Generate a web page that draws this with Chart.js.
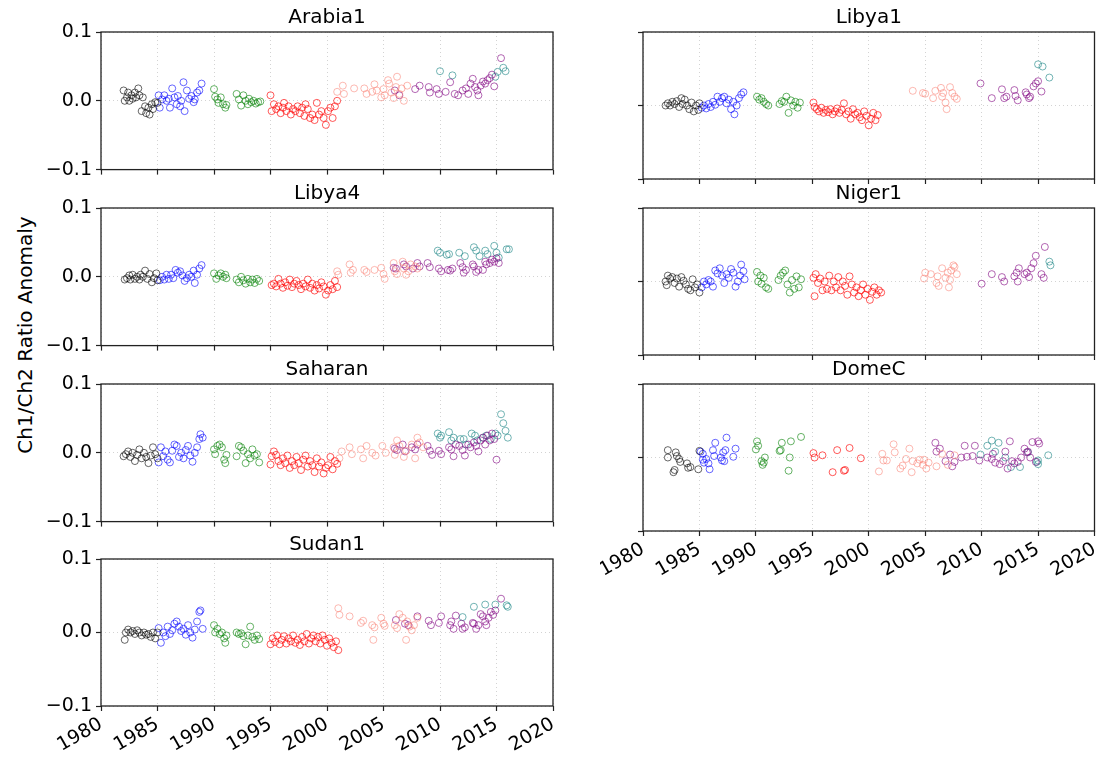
<!DOCTYPE html>
<html>
<head>
<meta charset="utf-8">
<script src="https://cdn.jsdelivr.net/npm/chart.js@4.4.1/dist/chart.umd.min.js"></script>
<style>
  body { margin: 0; background: #fff; width: 1099px; height: 759px; overflow: hidden; position: relative; font-family: "DejaVu Sans", sans-serif; }
  canvas { position: absolute; }
  #ylab { position: absolute; left: 25px; top: 335px; transform: translate(-50%, -50%) rotate(-90deg); font-size: 20px; white-space: nowrap; color: #000; }
</style>
</head>
<body>
<div id="ylab">Ch1/Ch2 Ratio Anomaly</div>
<script>
// x ticks (years) and y ticks
const X_TICKS = [1980, 1985, 1990, 1995, 2000, 2005, 2010, 2015, 2020];
const Y_TICKS = [-0.1, 0.0, 0.1];
const Y_LABELS = ['\u22120.1', '0.0', '0.1'];

// series colours, one per instrument period
const SERIES_COLORS = ['rgba(0,0,0,0.6)', 'rgba(0,0,255,0.6)', 'rgba(0,128,0,0.6)', 'rgba(255,0,0,0.65)',
  'rgba(250,128,114,0.55)', 'rgba(128,0,128,0.6)', 'rgba(40,140,140,0.65)'];

// data: flat [year, anomaly, year, anomaly, ...]
const ARABIA1_BLACK = [1982.0,.015, 1982.1,0, 1982.3,.005, 1982.4,.012, 1982.5,0, 1982.7,.008, 1982.8,.003, 1983.0,.012, 1983.1,.005, 1983.3,.018, 1983.4,.008, 1983.6,-.015, 1983.7,.005, 1983.9,-.008, 1984.0,-.018, 1984.2,-.01, 1984.3,-.02, 1984.5,-.005, 1984.6,-.012, 1984.8,-.002, 1985.0,-.003];
const ARABIA1_BLUE = [1985.1,.008, 1985.2,-.01, 1985.4,.002, 1985.6,.008, 1985.8,0, 1986.0,.003, 1986.1,-.01, 1986.3,.018, 1986.5,.005, 1986.7,-.005, 1986.8,.007, 1987.0,-.008, 1987.1,0, 1987.3,.027, 1987.4,-.015, 1987.6,.015, 1987.8,.003, 1988.0,.007, 1988.2,-.002, 1988.3,.002, 1988.5,.012, 1988.7,.015, 1988.9,.025];
const ARABIA1_GREEN = [1990.0,.017, 1990.1,.006, 1990.3,.002, 1990.4,-.003, 1990.6,.005, 1990.8,-.005, 1991.0,-.01, 1991.1,-.006, 1992.0,.01, 1992.2,.002, 1992.4,-.007, 1992.6,.008, 1992.8,0, 1993.0,-.005, 1993.1,.003, 1993.3,-.002, 1993.5,0, 1993.7,-.004, 1993.9,-.002, 1994.1,-.001];
const ARABIA1_RED = [1995.0,.008, 1995.1,-.015, 1995.3,-.005, 1995.5,-.012, 1995.7,-.008, 1995.9,-.018, 1996.1,-.01, 1996.2,-.003, 1996.4,-.015, 1996.6,-.008, 1996.8,-.02, 1997.0,-.012, 1997.2,-.015, 1997.4,-.008, 1997.6,-.018, 1997.8,-.01, 1998.0,-.022, 1998.1,-.005, 1998.3,-.012, 1998.5,-.025, 1998.7,-.02, 1998.9,-.028, 1999.1,-.003, 1999.3,-.02, 1999.5,-.015, 1999.7,-.025, 1999.9,-.035, 2000.1,-.015, 2000.3,-.01, 2000.5,-.025, 2000.7,-.008, 2000.9,0];
const ARABIA1_SALMON = [2000.9,.013, 2001.4,.022, 2001.5,.01, 2002.4,.018, 2003.3,.018, 2003.5,.01, 2004.0,.013, 2004.2,.024, 2004.4,.015, 2004.8,.005, 2005.0,.017, 2005.1,.008, 2005.4,.03, 2005.5,.025, 2005.7,.012, 2005.9,.004, 2006.1,.02, 2006.2,.035, 2006.4,.01, 2006.6,.018, 2006.8,0, 2007.1,.022];
const ARABIA1_PURPLE = [2006.0,.015, 2006.4,.008, 2007.8,.017, 2008.2,.022, 2009.0,.02, 2009.1,.012, 2009.7,.017, 2009.9,.01, 2010.5,.013, 2010.9,.027, 2011.3,.01, 2011.6,.008, 2012.0,.015, 2012.3,.018, 2012.5,.01, 2012.7,.025, 2012.9,.032, 2013.1,.02, 2013.3,.015, 2013.4,.008, 2013.6,.022, 2013.8,.028, 2014.0,.025, 2014.2,.03, 2014.4,.033, 2014.6,.038, 2014.8,.021, 2015.4,.062];
const ARABIA1_TEAL = [2010.0,.043, 2011.1,.037, 2014.9,.035, 2015.1,.042, 2015.6,.048, 2015.8,.043];

const LIBYA1_BLACK = [1982.0,0, 1982.2,.003, 1982.4,0, 1982.6,.005, 1982.8,.002, 1983.0,.006, 1983.2,-.002, 1983.4,.01, 1983.5,.002, 1983.7,.008, 1983.9,0, 1984.1,-.005, 1984.3,.004, 1984.5,-.008, 1984.7,0, 1984.9,-.006, 1985.0,.003];
const LIBYA1_BLUE = [1985.2,-.003, 1985.4,0, 1985.6,-.004, 1985.8,.002, 1986.0,-.002, 1986.2,.005, 1986.4,.001, 1986.6,.012, 1986.8,.005, 1987.0,.01, 1987.2,.012, 1987.4,.003, 1987.6,.008, 1987.8,-.005, 1988.0,.005, 1988.1,-.012, 1988.3,0, 1988.5,.01, 1988.7,.015, 1988.9,.018];
const LIBYA1_GREEN = [1990.1,.012, 1990.3,.008, 1990.5,.01, 1990.7,.005, 1990.9,.002, 1991.1,0, 1992.1,.002, 1992.3,.006, 1992.5,.005, 1992.7,.012, 1992.9,-.01, 1993.1,.007, 1993.3,0, 1993.5,.005, 1993.7,-.003, 1993.9,.004];
const LIBYA1_RED = [1995.1,.004, 1995.2,-.002, 1995.4,-.005, 1995.6,-.008, 1995.8,-.003, 1996.0,-.01, 1996.2,-.006, 1996.4,-.009, 1996.6,-.005, 1996.8,-.012, 1997.0,-.008, 1997.2,-.004, 1997.4,-.01, 1997.6,-.006, 1997.8,.003, 1998.0,-.012, 1998.2,-.008, 1998.4,-.018, 1998.6,-.005, 1998.8,-.012, 1999.0,-.01, 1999.2,-.016, 1999.4,-.02, 1999.6,-.008, 1999.8,-.014, 2000.0,-.027, 2000.2,-.018, 2000.4,-.01, 2000.6,-.02, 2000.8,-.013];
const LIBYA1_SALMON = [2003.9,.02, 2004.8,.017, 2005.0,.016, 2005.7,.01, 2005.9,.02, 2006.4,.024, 2006.5,.012, 2006.6,.017, 2006.8,.004, 2006.9,-.005, 2007.2,.025, 2007.4,.017, 2007.6,.012, 2007.8,.009];
const LIBYA1_PURPLE = [2009.9,.03, 2010.9,.01, 2011.8,.022, 2012.0,.01, 2012.2,.012, 2012.9,.021, 2013.0,.013, 2013.2,.007, 2013.9,.018, 2014.0,.015, 2014.2,.01, 2014.3,.012, 2014.6,.026, 2014.8,.03, 2015.0,.033, 2015.3,.019];
const LIBYA1_TEAL = [2015.0,.056, 2015.4,.053, 2016.0,.038];

const LIBYA4_BLACK = [1982.1,-.004, 1982.3,-.002, 1982.5,.002, 1982.6,-.004, 1982.8,.003, 1983.0,-.003, 1983.2,0, 1983.4,-.004, 1983.5,.003, 1983.7,0, 1983.9,.009, 1984.1,-.003, 1984.3,.004, 1984.5,-.008, 1984.7,-.002, 1984.9,.005, 1985.0,-.005];
const LIBYA4_BLUE = [1985.2,-.005, 1985.4,0, 1985.6,-.004, 1985.8,.003, 1986.0,-.003, 1986.2,.003, 1986.4,-.002, 1986.6,.01, 1986.8,.006, 1987.0,.008, 1987.2,.002, 1987.4,-.006, 1987.6,-.002, 1987.8,.003, 1988.0,0, 1988.2,.009, 1988.3,-.009, 1988.5,.003, 1988.7,.012, 1988.9,.017];
const LIBYA4_GREEN = [1990.0,.005, 1990.2,-.003, 1990.4,.002, 1990.6,.005, 1990.8,0, 1991.0,.003, 1991.1,-.002, 1992.0,-.004, 1992.2,-.008, 1992.4,0, 1992.6,-.005, 1992.8,-.01, 1993.0,-.003, 1993.2,-.008, 1993.4,-.004, 1993.6,-.009, 1993.8,-.003, 1994.0,-.006];
const LIBYA4_RED = [1995.1,-.012, 1995.3,-.01, 1995.5,-.014, 1995.7,-.003, 1995.9,-.01, 1996.1,-.016, 1996.3,-.008, 1996.5,-.013, 1996.7,-.004, 1996.9,-.015, 1997.1,-.01, 1997.3,-.006, 1997.5,-.012, 1997.7,-.018, 1997.9,-.01, 1998.1,-.014, 1998.3,-.004, 1998.5,-.016, 1998.7,-.01, 1998.9,-.02, 1999.1,-.012, 1999.3,-.017, 1999.5,-.008, 1999.7,-.014, 1999.9,-.026, 2000.1,-.02, 2000.3,-.012, 2000.5,-.018, 2000.7,-.006, 2000.9,-.015];
const LIBYA4_SALMON = [2000.9,.008, 2001.0,.003, 2002.0,.018, 2002.1,.006, 2002.3,.01, 2003.3,.01, 2003.5,.007, 2004.2,.01, 2004.8,.013, 2005.0,.004, 2005.1,-.003, 2005.9,.02, 2006.0,.008, 2006.2,.004, 2006.7,.022, 2006.8,.012, 2007.0,.003, 2007.2,.008, 2007.4,.018, 2007.8,.015, 2008.0,.012];
const LIBYA4_PURPLE = [2005.9,.013, 2006.1,.012, 2006.8,.018, 2007.0,.015, 2007.6,.012, 2008.0,.02, 2008.2,.015, 2008.9,.02, 2009.1,.014, 2009.9,.012, 2010.1,.008, 2010.7,.01, 2010.9,.009, 2011.1,.012, 2011.8,.02, 2012.0,.014, 2012.1,.006, 2012.3,.01, 2012.9,.018, 2013.0,.015, 2013.2,.007, 2013.4,.01, 2013.8,.01, 2014.0,.022, 2014.1,.018, 2014.4,.02, 2014.6,.025, 2014.8,.022, 2015.0,.027, 2015.2,.02];
const LIBYA4_TEAL = [2009.8,.038, 2010.0,.035, 2010.6,.032, 2010.8,.033, 2011.7,.035, 2012.2,.03, 2013.0,.043, 2013.2,.038, 2013.5,.03, 2014.0,.038, 2014.2,.033, 2014.8,.045, 2015.0,.035, 2015.2,.028, 2015.9,.04, 2016.1,.04];

const NIGER1_BLACK = [1982.0,0, 1982.1,-.005, 1982.2,.008, 1982.4,.004, 1982.6,.006, 1982.8,-.002, 1983.0,.004, 1983.2,-.007, 1983.4,.006, 1983.6,.001, 1983.8,-.004, 1984.0,-.01, 1984.2,-.012, 1984.4,.003, 1984.6,-.008, 1984.8,-.004, 1985.0,-.015];
const NIGER1_BLUE = [1985.2,-.008, 1985.4,0, 1985.6,-.004, 1985.8,.002, 1986.0,0, 1986.2,-.007, 1986.4,.015, 1986.6,.011, 1986.8,.018, 1987.0,.008, 1987.2,-.002, 1987.4,.01, 1987.6,.005, 1987.8,.017, 1988.0,.012, 1988.2,-.007, 1988.4,0, 1988.6,.008, 1988.7,.023, 1988.9,.014, 1989.0,.003];
const NIGER1_GREEN = [1990.1,.013, 1990.2,0, 1990.4,.008, 1990.5,-.003, 1990.7,.005, 1990.9,-.008, 1991.1,-.01, 1992.0,.002, 1992.2,.008, 1992.4,.012, 1992.6,.015, 1992.8,-.004, 1993.0,-.015, 1993.2,.002, 1993.4,-.01, 1993.6,.007, 1993.8,-.008, 1994.0,.003];
const NIGER1_RED = [1995.1,.005, 1995.2,-.02, 1995.3,.01, 1995.5,-.002, 1995.7,.004, 1995.9,-.012, 1996.1,0, 1996.3,-.01, 1996.5,.008, 1996.7,-.012, 1996.9,0, 1997.1,-.008, 1997.3,.006, 1997.5,-.012, 1997.7,0, 1997.9,-.006, 1998.1,-.018, 1998.3,.007, 1998.5,-.004, 1998.7,-.015, 1998.9,-.008, 1999.1,-.02, 1999.3,-.012, 1999.5,-.004, 1999.7,-.018, 1999.9,-.01, 2000.1,-.025, 2000.3,-.014, 2000.5,-.008, 2000.7,-.018, 2000.9,-.012, 2001.1,-.015];
const NIGER1_SALMON = [2004.9,.004, 2005.0,.012, 2005.5,.01, 2006.0,-.002, 2006.1,.007, 2006.2,-.006, 2006.5,.018, 2006.8,.005, 2007.0,.012, 2007.1,-.008, 2007.2,.002, 2007.3,.015, 2007.5,.022, 2007.6,.02, 2007.8,.01];
const NIGER1_PURPLE = [2010.0,-.003, 2010.9,.01, 2011.8,.006, 2012.0,0, 2012.9,.007, 2013.1,.012, 2013.2,0, 2013.3,.018, 2013.8,.01, 2014.0,.012, 2014.2,.006, 2014.4,.018, 2014.6,.025, 2014.8,.035, 2015.3,.01, 2015.5,.005, 2015.6,.047];
const NIGER1_TEAL = [2016.0,.027, 2016.1,.022];

const SAHARAN_BLACK = [1982.0,-.005, 1982.2,-.002, 1982.4,.002, 1982.6,-.006, 1982.8,0, 1983.0,-.012, 1983.2,-.003, 1983.4,.005, 1983.6,-.008, 1983.8,0, 1984.0,-.006, 1984.2,-.015, 1984.4,-.004, 1984.6,.008, 1984.8,-.002, 1985.0,-.008];
const SAHARAN_BLUE = [1985.1,-.014, 1985.3,.008, 1985.5,-.005, 1985.7,.002, 1985.9,-.01, 1986.1,-.014, 1986.3,.003, 1986.5,.012, 1986.7,.01, 1986.9,-.006, 1987.1,0, 1987.3,-.008, 1987.5,.004, 1987.7,.01, 1987.9,-.004, 1988.1,-.013, 1988.3,0, 1988.5,.008, 1988.7,.02, 1988.8,.027, 1989.0,.022];
const SAHARAN_GREEN = [1990.0,.005, 1990.1,-.002, 1990.3,.01, 1990.5,.012, 1990.7,.008, 1990.9,-.01, 1991.0,-.015, 1991.1,-.003, 1992.0,-.005, 1992.2,.01, 1992.4,.008, 1992.6,.003, 1992.8,-.015, 1993.0,-.002, 1993.2,-.008, 1993.4,.005, 1993.6,-.004, 1993.8,-.002, 1994.0,-.014];
const SAHARAN_RED = [1995.0,-.017, 1995.1,-.005, 1995.3,.002, 1995.5,-.003, 1995.7,-.012, 1995.9,-.018, 1996.1,-.008, 1996.3,-.015, 1996.5,-.004, 1996.7,-.022, 1996.9,-.012, 1997.1,-.018, 1997.3,-.006, 1997.5,-.015, 1997.7,-.025, 1997.9,-.01, 1998.1,-.004, 1998.3,-.02, 1998.5,-.012, 1998.7,-.018, 1998.9,-.028, 1999.1,-.008, 1999.3,-.02, 1999.5,-.014, 1999.7,-.03, 1999.9,-.022, 2000.1,-.018, 2000.3,-.006, 2000.5,-.024, 2000.7,-.012, 2000.9,-.016];
const SAHARAN_SALMON = [2001.1,-.008, 2001.3,.002, 2002.0,.008, 2002.2,-.002, 2003.0,.005, 2003.2,-.008, 2003.5,.01, 2004.0,0, 2004.3,-.004, 2004.9,.01, 2005.2,0, 2005.9,.008, 2006.0,-.003, 2006.2,.018, 2006.4,.01, 2006.8,-.006, 2007.0,.003, 2007.5,.012, 2007.8,-.008, 2008.0,.022, 2008.2,.015, 2008.5,.008];
const SAHARAN_PURPLE = [2006.0,.006, 2006.2,.004, 2006.7,.012, 2006.9,.002, 2007.5,.008, 2007.8,.005, 2008.0,.012, 2008.9,.01, 2009.1,.003, 2009.3,-.003, 2009.9,.003, 2010.1,-.002, 2010.8,.008, 2011.0,.005, 2011.2,-.005, 2011.4,.012, 2011.7,.01, 2012.0,.004, 2012.2,-.004, 2012.5,.012, 2012.7,.008, 2013.0,.015, 2013.2,.01, 2013.4,.002, 2013.6,.018, 2013.8,.022, 2014.0,.012, 2014.2,.025, 2014.4,.018, 2014.6,.028, 2014.8,.02, 2015.0,-.01];
const SAHARAN_TEAL = [2009.8,.028, 2010.0,.022, 2010.1,.025, 2010.8,.03, 2011.0,.018, 2011.2,.022, 2011.8,.02, 2012.1,.02, 2012.3,.012, 2012.8,.028, 2013.1,.025, 2013.3,.018, 2013.8,.022, 2014.1,.025, 2014.5,.02, 2014.9,.028, 2015.1,.025, 2015.4,.056, 2015.6,.043, 2015.8,.032, 2016.0,.022];

const DOMEC_BLACK = [1982.2,.01, 1982.2,0, 1982.7,-.02, 1982.8,-.017, 1982.9,.007, 1983.0,.002, 1983.2,-.002, 1983.3,-.006, 1983.9,-.008, 1984.0,-.014, 1984.2,-.013, 1984.9,-.016, 1985.0,.009];
const DOMEC_BLUE = [1985.1,.008, 1985.3,.005, 1985.3,-.003, 1985.4,-.007, 1985.6,-.002, 1985.8,-.008, 1985.9,-.016, 1986.2,.01, 1986.3,.002, 1986.4,.02, 1986.9,0, 1987.0,-.004, 1987.1,.007, 1987.2,-.005, 1987.3,.01, 1987.4,.027, 1988.0,.001, 1988.2,.012];
const DOMEC_GREEN = [1990.0,.011, 1990.1,.022, 1990.2,.016, 1990.5,-.005, 1990.6,-.01, 1990.7,-.007, 1990.8,0, 1992.1,.009, 1992.2,.01, 1992.3,.02, 1993.1,.022, 1993.0,0, 1992.9,-.018, 1994.0,.028];
const DOMEC_RED = [1995.1,.006, 1995.2,0, 1995.9,.003, 1996.8,-.02, 1997.2,.01, 1997.8,-.018, 1997.9,-.017, 1998.3,.013, 1999.3,-.001];
const DOMEC_SALMON = [2000.9,-.019, 2001.2,.005, 2001.3,-.004, 2001.6,-.004, 2002.2,.018, 2002.3,.007, 2002.8,-.015, 2003.0,-.011, 2003.3,-.002, 2003.6,.012, 2003.8,-.02, 2003.9,-.005, 2004.3,-.008, 2004.5,-.003, 2004.8,-.01, 2004.9,-.003, 2005.1,-.015, 2005.3,-.007, 2006.0,-.012, 2006.5,.005, 2007.0,-.01, 2007.6,.003];
const DOMEC_PURPLE = [2005.9,.02, 2006.0,.008, 2006.3,.012, 2006.8,-.005, 2007.2,.004, 2007.4,-.012, 2007.6,-.006, 2008.2,0, 2008.5,.016, 2008.7,.001, 2009.2,.002, 2009.4,.016, 2009.8,-.004, 2010.5,0, 2010.9,-.002, 2011.0,.005, 2011.2,-.007, 2011.6,-.009, 2011.9,-.005, 2012.1,.008, 2012.3,-.015, 2012.5,.022, 2012.7,-.005, 2012.9,-.008, 2013.2,-.006, 2013.5,0, 2013.8,.012, 2014.0,.007, 2014.1,.008, 2014.3,0, 2014.5,.021, 2014.8,-.006, 2015.0,.022, 2015.1,.019];
const DOMEC_TEAL = [2009.9,.004, 2010.5,.016, 2010.9,.023, 2011.2,.008, 2011.5,.02, 2012.1,0, 2012.6,-.013, 2013.4,-.013, 2014.1,.007, 2014.9,-.006, 2015.0,-.009, 2015.0,-.004, 2015.9,.003];

const SUDAN1_BLACK = [1982.1,-.01, 1982.2,0, 1982.4,.004, 1982.6,0, 1982.8,.002, 1983.0,-.002, 1983.2,.003, 1983.4,0, 1983.6,-.004, 1983.8,0, 1984.0,-.003, 1984.2,-.002, 1984.4,-.006, 1984.6,0, 1984.8,-.008, 1985.0,0];
const SUDAN1_BLUE = [1985.1,.006, 1985.3,-.014, 1985.5,0, 1985.7,-.005, 1985.9,.008, 1986.1,-.002, 1986.3,.003, 1986.5,.012, 1986.7,.015, 1986.9,.008, 1987.1,.002, 1987.3,.005, 1987.5,-.003, 1987.7,.01, 1987.9,0, 1988.1,-.007, 1988.3,.004, 1988.5,.015, 1988.7,.028, 1988.8,.03, 1989.0,.005];
const SUDAN1_GREEN = [1990.0,.01, 1990.1,0, 1990.3,.005, 1990.5,-.002, 1990.7,0, 1990.9,-.008, 1991.0,-.014, 1991.1,-.004, 1992.0,0, 1992.2,-.002, 1992.4,-.001, 1992.6,-.005, 1992.8,-.016, 1993.0,-.004, 1993.2,.008, 1993.4,-.006, 1993.6,-.01, 1993.8,-.004, 1994.0,-.009];
const SUDAN1_RED = [1995.0,-.016, 1995.2,-.008, 1995.4,-.013, 1995.6,-.004, 1995.8,-.016, 1996.0,-.01, 1996.2,-.005, 1996.4,-.015, 1996.6,-.008, 1996.8,-.012, 1997.0,-.004, 1997.2,-.014, 1997.4,-.01, 1997.6,-.017, 1997.8,-.006, 1998.0,-.012, 1998.2,-.002, 1998.4,-.015, 1998.6,-.008, 1998.8,-.004, 1999.0,-.012, 1999.2,-.006, 1999.4,-.015, 1999.6,-.004, 1999.8,-.01, 2000.0,-.018, 2000.2,-.008, 2000.4,-.014, 2000.6,-.02, 2000.8,-.012, 2001.0,-.024];
const SUDAN1_SALMON = [2001.0,.033, 2001.1,.024, 2002.0,.022, 2003.0,.013, 2003.2,.016, 2004.0,.01, 2004.1,-.01, 2004.2,.007, 2004.8,.02, 2005.0,.012, 2005.1,.009, 2006.0,.01, 2006.2,.006, 2006.4,.025, 2006.7,.02, 2007.0,-.01, 2007.1,.015, 2007.3,.008, 2007.5,.003, 2007.7,.01, 2008.0,.02];
const SUDAN1_PURPLE = [2006.1,.017, 2006.9,.012, 2007.2,.01, 2008.0,.022, 2009.0,.016, 2009.2,.01, 2009.9,.013, 2010.1,.022, 2010.9,.01, 2011.0,.015, 2011.2,.005, 2011.4,.023, 2011.9,.012, 2012.0,.005, 2012.2,.007, 2012.9,.013, 2013.0,.012, 2013.2,.005, 2013.4,.01, 2013.6,.025, 2013.8,.022, 2014.0,.015, 2014.1,.01, 2014.3,.02, 2014.5,.028, 2014.7,.024, 2014.9,.03, 2015.4,.046];
const SUDAN1_TEAL = [2012.0,.021, 2013.0,.035, 2014.0,.038, 2014.9,.038, 2015.9,.037, 2016.0,.035];

// panels: title, column, row, series in colour order
const PANELS = [
  ['Arabia1', 0, 0, [ARABIA1_BLACK, ARABIA1_BLUE, ARABIA1_GREEN, ARABIA1_RED, ARABIA1_SALMON, ARABIA1_PURPLE, ARABIA1_TEAL]],
  ['Libya1', 1, 0, [LIBYA1_BLACK, LIBYA1_BLUE, LIBYA1_GREEN, LIBYA1_RED, LIBYA1_SALMON, LIBYA1_PURPLE, LIBYA1_TEAL]],
  ['Libya4', 0, 1, [LIBYA4_BLACK, LIBYA4_BLUE, LIBYA4_GREEN, LIBYA4_RED, LIBYA4_SALMON, LIBYA4_PURPLE, LIBYA4_TEAL]],
  ['Niger1', 1, 1, [NIGER1_BLACK, NIGER1_BLUE, NIGER1_GREEN, NIGER1_RED, NIGER1_SALMON, NIGER1_PURPLE, NIGER1_TEAL]],
  ['Saharan', 0, 2, [SAHARAN_BLACK, SAHARAN_BLUE, SAHARAN_GREEN, SAHARAN_RED, SAHARAN_SALMON, SAHARAN_PURPLE, SAHARAN_TEAL]],
  ['DomeC', 1, 2, [DOMEC_BLACK, DOMEC_BLUE, DOMEC_GREEN, DOMEC_RED, DOMEC_SALMON, DOMEC_PURPLE, DOMEC_TEAL]],
  ['Sudan1', 0, 3, [SUDAN1_BLACK, SUDAN1_BLUE, SUDAN1_GREEN, SUDAN1_RED, SUDAN1_SALMON, SUDAN1_PURPLE, SUDAN1_TEAL]]
];

const COLS = [{ left: 0, width: 580, axisW: 101, plotRight: 553 }, { left: 600, width: 499, axisW: 43, plotRight: 1096 }];
const ROW_TOPS = [32, 208, 384, 559];
const PLOT_H = 147, TITLE_H = 32;

Chart.defaults.font.family = '"DejaVu Sans", sans-serif';
Chart.defaults.color = '#000';

function pairs(flat) {
  const out = [];
  for (let i = 0; i < flat.length; i += 2) out.push({ x: flat[i], y: flat[i + 1] });
  return out;
}

// box round the plot area and the panel title centred over it
const framePlugin = {
  id: 'frame',
  afterDraw(chart, args, opts) {
    const a = chart.chartArea, ctx = chart.ctx;
    ctx.save();
    ctx.strokeStyle = '#222';
    ctx.lineWidth = 1.3;
    ctx.strokeRect(a.left, a.top, a.right - a.left, a.bottom - a.top);
    ctx.fillStyle = '#000';
    ctx.font = '20px "DejaVu Sans", sans-serif';
    ctx.textAlign = 'center';
    ctx.textBaseline = 'alphabetic';
    ctx.fillText(opts.text, (a.left + a.right) / 2, a.top - 9);
    ctx.restore();
  }
};

PANELS.forEach(([title, col, row, series]) => {
  const c = COLS[col];
  const isBottom = (col === 0 && row === 3) || (col === 1 && row === 2);
  const xAxisH = isBottom ? 50 : 6;
  const cv = document.createElement('canvas');
  const h = TITLE_H + PLOT_H + xAxisH;
  cv.width = c.width; cv.height = h;
  cv.style.left = c.left + 'px';
  cv.style.top = (ROW_TOPS[row] - TITLE_H) + 'px';
  cv.style.width = c.width + 'px'; cv.style.height = h + 'px';
  document.body.appendChild(cv);

  new Chart(cv, {
    type: 'scatter',
    data: {
      datasets: series.map((s, i) => ({
        data: pairs(s),
        borderColor: SERIES_COLORS[i],
        backgroundColor: 'rgba(0,0,0,0)',
        pointRadius: 3.5,
        borderWidth: 1,
        pointHoverRadius: 3.5
      }))
    },
    options: {
      responsive: false,
      animation: false,
      devicePixelRatio: 1,
      layout: { padding: { left: 0, right: c.width - c.plotRight, top: TITLE_H, bottom: 0 } },
      plugins: {
        legend: { display: false },
        tooltip: { enabled: false },
        title: { display: false },
        frame: { text: title }
      },
      scales: {
        x: {
          type: 'linear', min: 1980, max: 2020,
          afterBuildTicks: s => { s.ticks = X_TICKS.map(v => ({ value: v })); },
          afterFit: s => { s.height = xAxisH; s.paddingLeft = 0; s.paddingRight = 0; },
          ticks: { display: isBottom, minRotation: 30, maxRotation: 30, autoSkip: false, padding: 2, color: '#000', font: { size: 19 }, callback: v => String(v) },
          grid: { color: 'rgba(0,0,0,0.22)', lineWidth: 0.8, tickLength: 5, tickColor: '#222', tickWidth: 1.2 },
          border: { display: false, dash: [1, 3] }
        },
        y: {
          min: -0.1, max: 0.1,
          afterBuildTicks: s => { s.ticks = Y_TICKS.map(v => ({ value: v })); },
          afterFit: s => { s.width = c.axisW; },
          ticks: { display: col === 0, padding: 4, color: '#000', font: { size: 19 }, callback: (v, i) => Y_LABELS[i] },
          grid: { color: 'rgba(0,0,0,0.22)', lineWidth: 0.8, tickLength: 5, tickColor: '#222', tickWidth: 1.2 },
          border: { display: false, dash: [1, 3] }
        }
      }
    },
    plugins: [framePlugin]
  });
});
</script>
</body>
</html>
